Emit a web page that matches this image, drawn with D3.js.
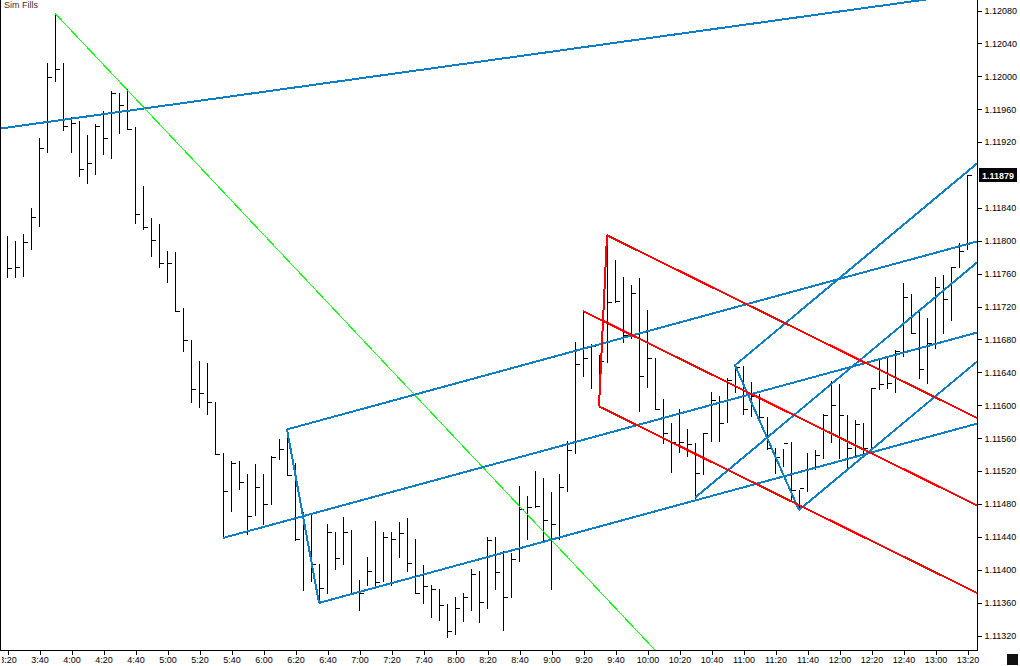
<!DOCTYPE html>
<html><head><meta charset="utf-8">
<script src="https://cdn.jsdelivr.net/npm/d3@7"></script>
<style>
body{margin:0;background:#fff;}
svg{display:block;}
text{font-family:"Liberation Sans",Arial,sans-serif;}
</style>
</head><body>
<svg id="c" width="1020" height="666"></svg>
<script>
// ---- DATA (5-minute bars) ----
const highs = [1.11805,1.11799,1.11808,1.11839,1.11924,1.12016,1.12076,1.12016,1.11950,1.11945,
1.11928,1.11941,1.11957,1.11982,1.11979,1.11984,1.11938,1.11866,1.11827,1.11820,
1.11787,1.11786,1.11718,1.11679,1.11653,1.11651,1.11603,1.11541,1.11532,1.11532,
1.11516,1.11528,1.11516,1.11538,1.11558,1.11570,1.11529,1.11470,1.11466,1.11406,
1.11455,1.11445,1.11463,1.11448,1.11387,1.11415,1.11459,1.11445,1.11445,1.11457,
1.11462,1.11437,1.11405,1.11381,1.11376,1.11358,1.11366,1.11371,1.11400,1.11398,
1.11439,1.11439,1.11422,1.11420,1.11501,1.11489,1.11519,1.11511,1.11494,1.11516,
1.11556,1.11676,1.11714,1.11674,1.11660,1.11806,1.11776,1.11755,1.11746,1.11754,
1.11715,1.11657,1.11607,1.11578,1.11595,1.11570,1.11553,1.11566,1.11615,1.11611,
1.11633,1.11648,1.11647,1.11628,1.11613,1.11585,1.11547,1.11546,1.11555,1.11496,
1.11541,1.11545,1.11589,1.11629,1.11625,1.11588,1.11581,1.11578,1.11620,1.11657,
1.11658,1.11667,1.11748,1.11735,1.11716,1.11705,1.11755,1.11758,1.11767,1.11797,
1.11879];
const lows = [1.11755,1.11755,1.11757,1.11789,1.11817,1.11907,1.11994,1.11934,1.11907,1.11878,
1.11870,1.11881,1.11905,1.11900,1.11930,1.11935,1.11821,1.11814,1.11781,1.11767,
1.11749,1.11714,1.11665,1.11603,1.11597,1.11589,1.11540,1.11438,1.11471,1.11498,
1.11443,1.11466,1.11455,1.11479,1.11534,1.11515,1.11436,1.11375,1.11386,1.11359,
1.11371,1.11400,1.11406,1.11371,1.11350,1.11381,1.11381,1.11386,1.11381,1.11415,
1.11398,1.11371,1.11359,1.11342,1.11338,1.11318,1.11321,1.11337,1.11350,1.11336,
1.11353,1.11376,1.11326,1.11366,1.11410,1.11437,1.11476,1.11434,1.11376,1.11437,
1.11495,1.11541,1.11635,1.11620,1.11598,1.11652,1.11725,1.11676,1.11681,1.11592,
1.11622,1.11595,1.11553,1.11518,1.11543,1.11538,1.11487,1.11516,1.11556,1.11556,
1.11579,1.11615,1.11589,1.11586,1.11579,1.11546,1.11517,1.11526,1.11485,1.11472,
1.11495,1.11522,1.11535,1.11555,1.11535,1.11524,1.11539,1.11536,1.11541,1.11619,
1.11620,1.11615,1.11659,1.11687,1.11633,1.11626,1.11669,1.11687,1.11703,1.11767,
1.11789];
const closes = [1.11766,1.11767,1.11798,1.11828,1.11912,1.11999,1.12008,1.11939,1.11943,1.11887,
1.11894,1.11939,1.11924,1.11979,1.11964,1.11935,1.11832,1.11816,1.11800,1.11772,
1.11772,1.11714,1.11679,1.11619,1.11614,1.11603,1.11540,1.11495,1.11529,1.11506,
1.11465,1.11500,1.11479,1.11536,1.11546,1.11515,1.11437,1.11466,1.11406,1.11377,
1.11445,1.11414,1.11445,1.11371,1.11371,1.11398,1.11384,1.11439,1.11437,1.11444,
1.11408,1.11371,1.11380,1.11376,1.11356,1.11325,1.11353,1.11366,1.11394,1.11360,
1.11436,1.11397,1.11366,1.11412,1.11473,1.11476,1.11477,1.11460,1.11455,1.11500,
1.11545,1.11650,1.11657,1.11671,1.11653,1.11725,1.11726,1.11685,1.11736,1.11635,
1.11657,1.11595,1.11566,1.11555,1.11555,1.11552,1.11517,1.11566,1.11606,1.11578,
1.11630,1.11646,1.11595,1.11611,1.11585,1.11547,1.11536,1.11553,1.11496,1.11499,
1.11522,1.11539,1.11588,1.11600,1.11588,1.11547,1.11577,1.11547,1.11620,1.11625,
1.11626,1.11665,1.11731,1.11687,1.11643,1.11675,1.11743,1.11729,1.11767,1.11787,
1.11879];

const timeLabels = ["3:20","3:40","4:00","4:20","4:40","5:00","5:20","5:40","6:00","6:20",
"6:40","7:00","7:20","7:40","8:00","8:20","8:40","9:00","9:20","9:40",
"10:00","10:20","10:40","11:00","11:20","11:40","12:00","12:20","12:40","13:00","13:20"];
const barsPerLabel = 4;
const priceTicks = [1.12080,1.12040,1.12000,1.11960,1.11920,1.11840,1.11800,1.11760,1.11720,
1.11680,1.11640,1.11600,1.11560,1.11520,1.11480,1.11440,1.11400,1.11360,1.11320];
const lastPrice = 1.11879;
const title = "Sim Fills";

// drawing objects: [barIndex, price]
const blueFork1 = [[27,1.11438],[35,1.11570],[39,1.11359]];
const blueFork2 = [[86,1.11487],[91,1.11648],[99,1.11472]];
const redFork   = [[72,1.11714],[75,1.11806],[74,1.11598]];
const blueTrend = [[0,1.11937],[115,1.12093]];
const greenTrend = [[6,1.12076],[80,1.11312]];

// ---- CHART ----
const plotRight = 977, plotBottom = 650;
const svg = d3.select("#c");
const x = d3.scaleLinear().domain([0, 120]).range([7, 967]);
const y = d3.scaleLinear().domain([1.11320, 1.12080]).range([635, 10]);

const defs = svg.append("defs");
defs.append("clipPath").attr("id","clip")
  .append("rect").attr("x",1).attr("y",0).attr("width",plotRight-1).attr("height",plotBottom);
defs.append("clipPath").attr("id","clipx")
  .append("rect").attr("x",2).attr("y",0).attr("width",1020).attr("height",666);

const px = v => Math.round(v) + 0.5;

// bars
const gBars = svg.append("g").attr("shape-rendering","crispEdges").attr("stroke","#000").attr("stroke-width",1);
highs.forEach((h,i)=>{
  const xx = px(x(i));
  gBars.append("line").attr("x1",xx).attr("x2",xx).attr("y1",Math.round(y(h))).attr("y2",Math.round(y(lows[i]))+1);
  const cy = px(y(closes[i]));
  gBars.append("line").attr("x1",xx).attr("x2",xx+4).attr("y1",cy).attr("y2",cy);
});

const gLines = svg.append("g").attr("clip-path","url(#clip)");
const iRight = x.invert(plotRight+2), iLeft = x.invert(-2);

function ray(g, p0, slope, iEnd, color, w){
  g.append("line")
    .attr("x1", x(p0[0])).attr("y1", y(p0[1]))
    .attr("x2", x(iEnd)).attr("y2", y(p0[1] + slope*(iEnd - p0[0])))
    .attr("stroke", color).attr("stroke-width", w).attr("stroke-linecap","butt");
}
function fork(pts, color){
  const [A,B,C] = pts;
  const M = [(B[0]+C[0])/2, (B[1]+C[1])/2];
  const s = (M[1]-A[1])/(M[0]-A[0]);
  const g = gLines.append("g").attr("shape-rendering","crispEdges");
  ray(g, A, s, iRight, color, 2);
  ray(g, B, s, iRight, color, 2);
  ray(g, C, s, iRight, color, 2);
  g.append("line").attr("x1",x(B[0])).attr("y1",y(B[1])).attr("x2",x(C[0])).attr("y2",y(C[1]))
    .attr("stroke",color).attr("stroke-width",2);
}
const blue = "#0e7fc4", red = "#ff0000", green = "#00ff00";

// trend lines
(function(){
  const [p,q] = blueTrend; const s=(q[1]-p[1])/(q[0]-p[0]);
  gLines.append("line").attr("shape-rendering","crispEdges")
    .attr("x1",x(iLeft)).attr("y1",y(p[1]+s*(iLeft-p[0])))
    .attr("x2",x(iRight)).attr("y2",y(p[1]+s*(iRight-p[0])))
    .attr("stroke",blue).attr("stroke-width",2);
  const [g0,g1] = greenTrend; const sg=(g1[1]-g0[1])/(g1[0]-g0[0]);
  ray(gLines.append("g").attr("shape-rendering","crispEdges"), g0, sg, 90, green, 1);
})();
fork(blueFork1, blue);
fork(blueFork2, blue);
fork(redFork, red);

// frame
const gF = svg.append("g").attr("shape-rendering","crispEdges").attr("stroke","#000");
gF.append("line").attr("x1",0.5).attr("x2",0.5).attr("y1",0).attr("y2",plotBottom+1);
gF.append("line").attr("x1",0).attr("x2",plotRight+1).attr("y1",plotBottom+0.5).attr("y2",plotBottom+0.5);
gF.append("line").attr("x1",plotRight+0.5).attr("x2",plotRight+0.5).attr("y1",0).attr("y2",plotBottom+1);

// y axis
const yAxis = d3.axisRight(y).tickValues(priceTicks).tickFormat(d3.format(".5f")).tickSize(4).tickPadding(3);
const gy = svg.append("g").attr("transform",`translate(${plotRight+0.5},0.5)`).call(yAxis);
gy.select(".domain").remove();
gy.selectAll("line").attr("shape-rendering","crispEdges");
gy.selectAll("text").attr("font-family","Liberation Sans, Arial, sans-serif").attr("font-size",9).attr("fill","#000");

// last price label
const ly = Math.round(y(lastPrice));
svg.append("rect").attr("x",979).attr("y",ly-7).attr("width",38).attr("height",14).attr("fill","#000");
svg.append("text").attr("x",982).attr("y",ly+3.5).attr("fill","#fff").attr("font-size",9).attr("font-weight","bold")
  .text(d3.format(".5f")(lastPrice));

// x axis
const xAxis = d3.axisBottom(x).tickValues(timeLabels.map((_,k)=>k*barsPerLabel))
  .tickFormat((d,k)=>timeLabels[k]).tickSize(4).tickPadding(2);
const gx = svg.append("g").attr("clip-path","url(#clipx)")
  .append("g").attr("transform",`translate(0.5,${plotBottom+0.5})`).call(xAxis);
gx.select(".domain").remove();
gx.selectAll("line").attr("shape-rendering","crispEdges");
gx.selectAll("text").attr("font-family","Liberation Sans, Arial, sans-serif").attr("font-size",9).attr("fill","#000");

// corner square
svg.append("rect").attr("x",1007).attr("y",654).attr("width",11).attr("height",11).attr("fill","#111");

// title
svg.append("text").attr("x",4).attr("y",8).attr("font-size",9).attr("fill","#333").text(title);
</script>
</body></html>
